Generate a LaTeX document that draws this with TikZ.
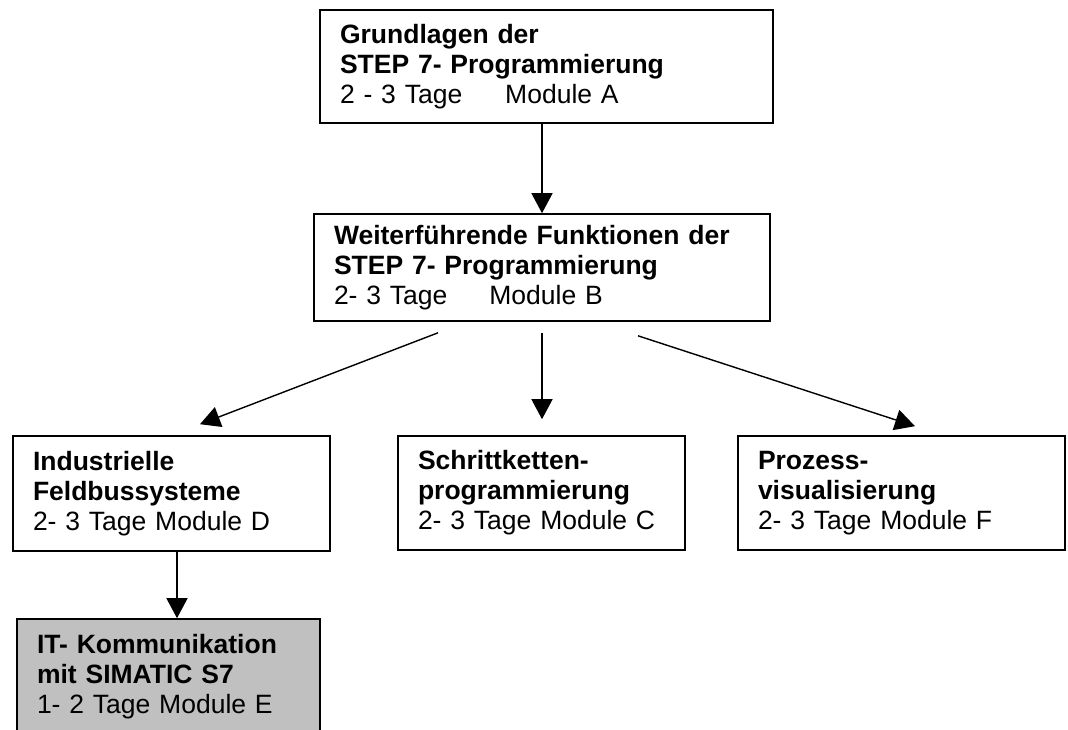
\documentclass[tikz,border=0pt]{standalone}
\usepackage{fontspec}
\setmainfont{Liberation Sans}
\usetikzlibrary{arrows.meta}
\begin{document}
\begin{tikzpicture}[x=1pt,y=-1pt,
  modbox/.style={draw=black,line width=1.6pt,fill=white,inner xsep=20pt,inner ysep=0pt,
    align=left,font=\fontsize{26.5}{30}\selectfont},
  arr/.style={draw=black,line width=1.4pt,-{Triangle[length=20pt,width=21pt]}}]
\clip (0,0) rectangle (1068,730);
\fill[white] (0,0) rectangle (1068,730);
\node[modbox,minimum width=453pt,minimum height=113pt,text width=413pt] (A) at (546.5,66.5)
  {\textbf{Grundlagen der}\\\textbf{STEP 7- Programmierung}\\2 - 3 Tage\hspace{43pt}Module A};
\node[modbox,minimum width=456pt,minimum height=107pt,text width=416pt] (B) at (542,267.5)
  {\textbf{Weiterführende Funktionen der}\\\textbf{STEP 7- Programmierung}\\2- 3 Tage\hspace{42pt}Module B};
\node[modbox,minimum width=317pt,minimum height=115pt,text width=277pt] (D) at (171.5,493.5)
  {\textbf{Industrielle}\\\textbf{Feldbussysteme}\\2- 3 Tage Module D};
\node[modbox,minimum width=287pt,minimum height=114pt,text width=247pt] (C) at (541.5,493)
  {\textbf{Schrittketten-}\\\textbf{programmierung}\\2- 3 Tage Module C};
\node[modbox,minimum width=327pt,minimum height=114pt,text width=287pt] (F) at (901.5,493)
  {\textbf{Prozess-}\\\textbf{visualisierung}\\2- 3 Tage Module F};
\node[modbox,fill={rgb,255:red,192;green,192;blue,192},minimum width=303pt,minimum height=116pt,text width=263pt] (E) at (168.5,677)
  {\textbf{IT- Kommunikation}\\\textbf{mit SIMATIC S7}\\1- 2 Tage Module E};
\draw[arr] (B.north |- A.south) -- (B.north);
\draw[arr] ([yshift=-11pt]B.south) -- ([xshift=0.5pt,yshift=16pt]C.north);
\draw[arr] ([xshift=-104pt,yshift=-11pt]B.south) -- ([xshift=28.5pt,yshift=11pt]D.north);
\draw[arr] ([xshift=96pt,yshift=-14pt]B.south) -- ([xshift=13.5pt,yshift=9pt]F.north);
\draw[arr] ([xshift=5.5pt]D.south) -- ([xshift=5.5pt]D.south |- E.north);
\end{tikzpicture}
\end{document}
